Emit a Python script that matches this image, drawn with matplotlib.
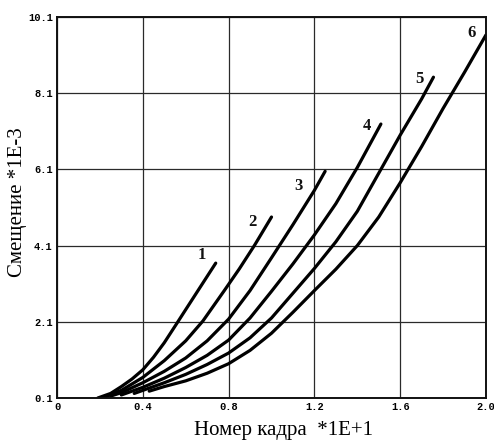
import matplotlib
matplotlib.use("Agg")
import matplotlib.pyplot as plt

# Data (x in units of 1E+1 frames, y in units of 1E-3)
c1_x = [0.19, 0.25, 0.30, 0.35, 0.40, 0.45, 0.50, 0.56, 0.60, 0.67, 0.74]
c1_y = [0.10, 0.22, 0.40, 0.60, 0.84, 1.17, 1.55, 2.07, 2.42, 3.03, 3.64]

c2_x = [0.21, 0.30, 0.40, 0.50, 0.60, 0.68, 0.78, 0.85, 0.92, 1.00]
c2_y = [0.10, 0.30, 0.64, 1.08, 1.60, 2.12, 2.92, 3.49, 4.10, 4.85]

c3_x = [0.25, 0.30, 0.40, 0.50, 0.60, 0.70, 0.80, 0.90, 1.00, 1.10, 1.20, 1.25]
c3_y = [0.15, 0.24, 0.50, 0.80, 1.15, 1.60, 2.17, 2.92, 3.78, 4.65, 5.55, 6.05]

c4_x = [0.30, 0.40, 0.50, 0.60, 0.70, 0.80, 0.90, 1.00, 1.10, 1.20, 1.30, 1.40, 1.51]
c4_y = [0.18, 0.38, 0.62, 0.90, 1.22, 1.62, 2.20, 2.90, 3.62, 4.38, 5.20, 6.15, 7.29]

c5_x = [0.36, 0.40, 0.50, 0.60, 0.70, 0.80, 0.90, 1.00, 1.10, 1.20, 1.30, 1.40, 1.50, 1.60, 1.70, 1.755]
c5_y = [0.22, 0.30, 0.50, 0.72, 0.98, 1.28, 1.68, 2.20, 2.85, 3.50, 4.20, 5.00, 6.00, 7.00, 7.95, 8.52]

c6_x = [0.43, 0.50, 0.60, 0.70, 0.80, 0.90, 1.00, 1.10, 1.20, 1.30, 1.40, 1.50, 1.60, 1.70, 1.80, 1.90, 2.00]
c6_y = [0.28, 0.40, 0.55, 0.75, 1.00, 1.35, 1.80, 2.35, 2.92, 3.48, 4.10, 4.85, 5.75, 6.70, 7.70, 8.65, 9.63]

curves_x = [c1_x, c2_x, c3_x, c4_x, c5_x, c6_x]
curves_y = [c1_y, c2_y, c3_y, c4_y, c5_y, c6_y]

curve_labels = ["1", "2", "3", "4", "5", "6"]
label_x = [0.676, 0.91, 1.128, 1.445, 1.688, 1.935]
label_y = [3.85, 4.72, 5.66, 7.24, 8.47, 9.68]

x_ticks = [0, 0.4, 0.8, 1.2, 1.6, 2.0]
x_ticklabels = ["0", "0.4", "0.8", "1.2", "1.6", "2.0"]
y_ticks = [0.1, 2.1, 4.1, 6.1, 8.1, 10.1]
y_ticklabels = ["0.1", "2.1", "4.1", "6.1", "8.1", "10.1"]

x_label = "Номер кадра  *1E+1"
y_label = "Смещение *1E-3"

fig = plt.figure(figsize=(4.94, 4.41), dpi=100)
ax = fig.add_axes([0.1154, 0.0975, 0.8684, 0.864])

for xs, ys in zip(curves_x, curves_y):
    ax.plot(xs, ys, color="black", lw=2.3, solid_capstyle="round",
            solid_joinstyle="round")

for t, lx, ly in zip(curve_labels, label_x, label_y):
    ax.text(lx, ly, t, family="Liberation Serif", fontweight="bold",
            fontsize=12, ha="center", va="center", color="#111111")

ax.set_xlim(0, 2.0)
ax.set_ylim(0.1, 10.1)
ax.set_xticks(x_ticks)
ax.set_xticklabels(x_ticklabels)
ax.set_yticks(y_ticks)
ax.set_yticklabels(y_ticklabels)
ax.tick_params(length=0, pad=3)
for lab in ax.get_xticklabels() + ax.get_yticklabels():
    lab.set_family("Liberation Mono")
    lab.set_fontweight("bold")
    lab.set_fontsize(7.5)
ax.grid(True, color="#2a2a2a", lw=0.9)
ax.set_axisbelow(True)
for s in ax.spines.values():
    s.set_linewidth(1.4)
    s.set_color("#111111")

ax.set_xlabel(x_label, family="Liberation Serif", fontsize=15)
ax.set_ylabel(y_label, family="Liberation Serif", fontsize=15)
ax.xaxis.set_label_coords(0.527, -0.06)
ax.yaxis.set_label_coords(-0.093, 0.514)
ax.yaxis.label.set_va("center")
ax.xaxis.label.set_va("top")

fig.savefig("out.png", dpi=100)
